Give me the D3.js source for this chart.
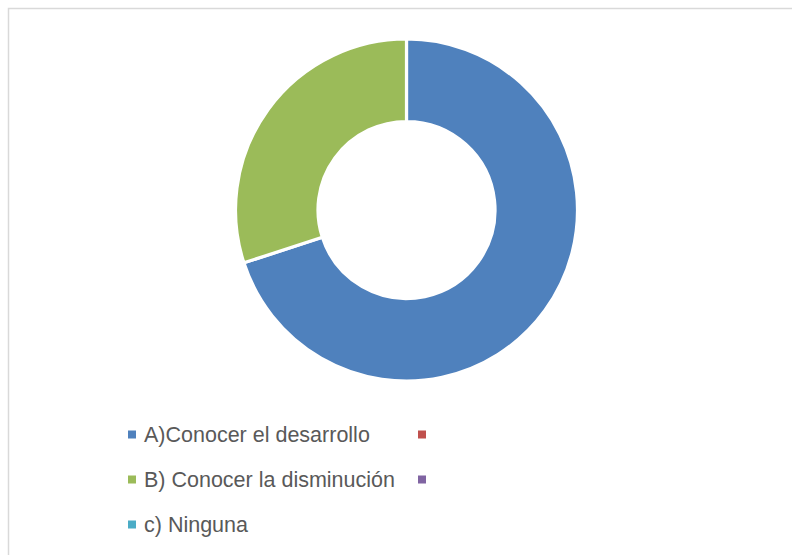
<!DOCTYPE html>
<html>
<head>
<meta charset="utf-8">
<script src="https://cdn.jsdelivr.net/npm/d3@7"></script>
<style>
html,body{margin:0;padding:0;background:#fff;}
svg{display:block;}
</style>
</head>
<body>
<svg id="chart" width="792" height="555"></svg>
<script>
const categories = ["A)Conocer el desarrollo", "", "B) Conocer la disminución", "", "c) Ninguna"];
const values = [70, 0, 30, 0, 0];
const colors = ["#4F81BD", "#C0504D", "#9BBB59", "#8064A2", "#4BACC6"];

const data = categories.map((c, i) => ({name: c, value: values[i], color: colors[i]}));

const svg = d3.select("#chart");

// chart area border
svg.append("rect")
  .attr("x", 8.5).attr("y", 8.5)
  .attr("width", 820).attr("height", 580)
  .attr("fill", "#fff")
  .attr("stroke", "#d9d9d9")
  .attr("stroke-width", 1.5);

const cx = 406.5, cy = 210, outerR = 171, innerR = 88.5;

const pie = d3.pie().sort(null).value(d => d.value).startAngle(0).endAngle(2 * Math.PI);
const arc = d3.arc().innerRadius(innerR).outerRadius(outerR);

const g = svg.append("g").attr("transform", `translate(${cx},${cy})`);
g.selectAll("path")
  .data(pie(data).filter(d => d.data.value > 0))
  .join("path")
  .attr("d", arc)
  .attr("fill", d => d.data.color)
  .attr("stroke", "#fff")
  .attr("stroke-width", 3.2)
  .attr("stroke-linejoin", "round");

// legend: 2 columns, row-major
const colX = [128, 418];
const rowY = [442, 487, 532];
const sq = 8;
const legend = svg.append("g");
data.forEach((d, i) => {
  const col = i % 2, row = Math.floor(i / 2);
  const x = colX[col], y = rowY[row];
  const it = legend.append("g");
  it.append("rect")
    .attr("x", x).attr("y", y - 11.5)
    .attr("width", sq).attr("height", sq)
    .attr("fill", d.color);
  if (d.name) {
    it.append("text")
      .attr("x", x + 16).attr("y", y)
      .attr("font-family", "'Liberation Sans', Arial, sans-serif")
      .attr("font-size", "21.5px")
      .attr("fill", "#595959")
      .text(d.name);
  }
});
</script>
</body>
</html>
